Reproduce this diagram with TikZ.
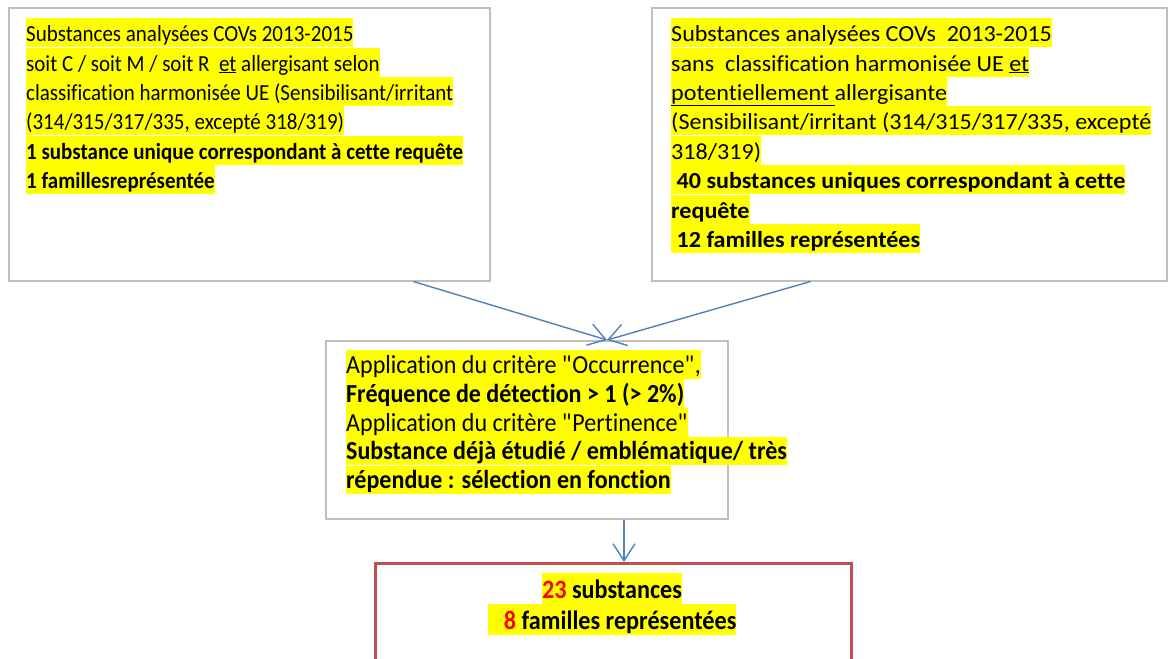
\documentclass[tikz,border=0pt]{standalone}
\usepackage{fontspec}
\setsansfont{Carlito}[FakeStretch=0.913, Ligatures=NoCommon]
\newfontfamily\widefam{Carlito}[FakeStretch=1.047, Ligatures=NoCommon]
\newfontfamily\critfam{Carlito}[FakeStretch=0.925, Ligatures=NoCommon]
\usetikzlibrary{arrows.meta,calc}
\definecolor{boxgray}{HTML}{BFBFBF}
\definecolor{flowblue}{HTML}{4F81BD}
\definecolor{resred}{HTML}{C0504D}
\definecolor{hlyellow}{HTML}{FFFF00}
\definecolor{numred}{HTML}{FF0000}
\newcommand{\boxfont}{\sffamily\fontsize{23}{29}\selectfont}
\newcommand{\widefont}{\widefam\fontsize{23}{29}\selectfont}
\newcommand{\critfont}{\critfam\fontsize{26}{29}\selectfont}
\newcommand{\resfont}{\sffamily\fontsize{26.5}{30}\selectfont}
\tikzset{
	box/.style={draw=boxgray, line width=1.5pt, anchor=north west, inner sep=0pt},
	resbox/.style={draw=resred, line width=3pt, anchor=north west, inner sep=0pt},
	hl/.style={fill=hlyellow, inner sep=0pt, text height=23.5pt, text depth=5.5pt, anchor=north west, font=\boxfont},
	hlb/.style={hl, font=\boxfont\bfseries},
	hlw/.style={hl, font=\widefont},
	hlwb/.style={hl, font=\widefont\bfseries},
	hlc/.style={hl, text height=23pt, font=\critfont},
	hlcb/.style={hlc, font=\critfont\bfseries},
	hlr/.style={hl, text height=25pt, anchor=north, font=\resfont\bfseries},
	flow/.style={draw=flowblue, line width=1.4pt, -{Straight Barb[length=17pt, width=22pt, line width=1.4pt]}}
	}

\begin{document}
\begin{tikzpicture}[x=1pt, y=-1pt, font=\boxfont]

	\useasboundingbox (0,0) rectangle (1168,659);

	% boxes
	\node[box, minimum width=481pt, minimum height=273pt] (src1) at (8,7) {};
	\node[box, minimum width=515pt, minimum height=273pt] (src2) at (651,7) {};
	\node[box, minimum width=402pt, minimum height=178pt] (crit) at (325,340) {};
	\node[resbox, minimum width=476pt, minimum height=110pt] (res) at (374,562) {};

	% left source
	\node[hl] (s1a) at (26,18) {Substances analysées COVs 2013-2015};
	\node[hl] (s1b) at (s1a.south west) {soit C / soit M / soit R~ \underline{et} allergisant selon};
	\node[hl] (s1c) at (s1b.south west) {classification harmonisée UE (Sensibilisant/irritant};
	\node[hl] (s1d) at (s1c.south west) {(314/315/317/335, excepté 318/319)};
	\node[hlb] (s1e) at (s1d.south west) {1 substance unique correspondant à cette requête};
	\node[hlb] (s1f) at (s1e.south west) {1 famillesreprésentée};

	% right source
	\node[hlw] (s2a) at (671,18) {Substances analysées COVs~ 2013-2015};
	\node[hlw] (s2b) at (s2a.south west) {sans~ classification harmonisée UE \underline{et}};
	\node[hlw] (s2c) at (s2b.south west) {\underline{potentiellement~}allergisante};
	\node[hlw] (s2d) at (s2c.south west) {(Sensibilisant/irritant (314/315/317/335, excepté};
	\node[hlw] (s2e) at (s2d.south west) {318/319)};
	\node[hlwb] (s2f) at (s2e.south west) {~40 substances uniques correspondant à cette};
	\node[hlwb] (s2g) at (s2f.south west) {requête};
	\node[hlwb] (s2h) at (s2g.south west) {~12 familles représentées};

	% criteria
	\node[hlc] (c1) at (346,350) {Application du critère \textquotedbl Occurrence\textquotedbl ,};
	\node[hlcb] (c2) at (c1.south west) {Fréquence de détection > 1 (> 2\%)};
	\node[hlc] (c3) at (c2.south west) {Application du critère \textquotedbl Pertinence\textquotedbl};
	\node[hlcb] (c4) at (c3.south west) {Substance déjà étudié / emblématique/ très};
	\node[hlcb] (c5) at (c4.south west) {répendue : sélection en fonction};

	% result
	\node[hlr] (r1) at (612,573) {\textcolor{numred}{23} substances};
	\node[hlr] (r2) at (r1.south) {~~~\textcolor{numred}{8} familles représentées};

	% arrows
	\draw[flow] ($(src1.south west)!0.84!(src1.south east)$) -- ($(crit.north west)!0.699!(crit.north east)$);
	\draw[flow] ($(src2.south west)!0.309!(src2.south east)$) -- ($(crit.north west)!0.699!(crit.north east)$);
	\coordinate (down) at ($(crit.south west)!0.741!(crit.south east)$);
	\draw[flow] (down) -- (down |- res.north);

\end{tikzpicture}
\end{document}
